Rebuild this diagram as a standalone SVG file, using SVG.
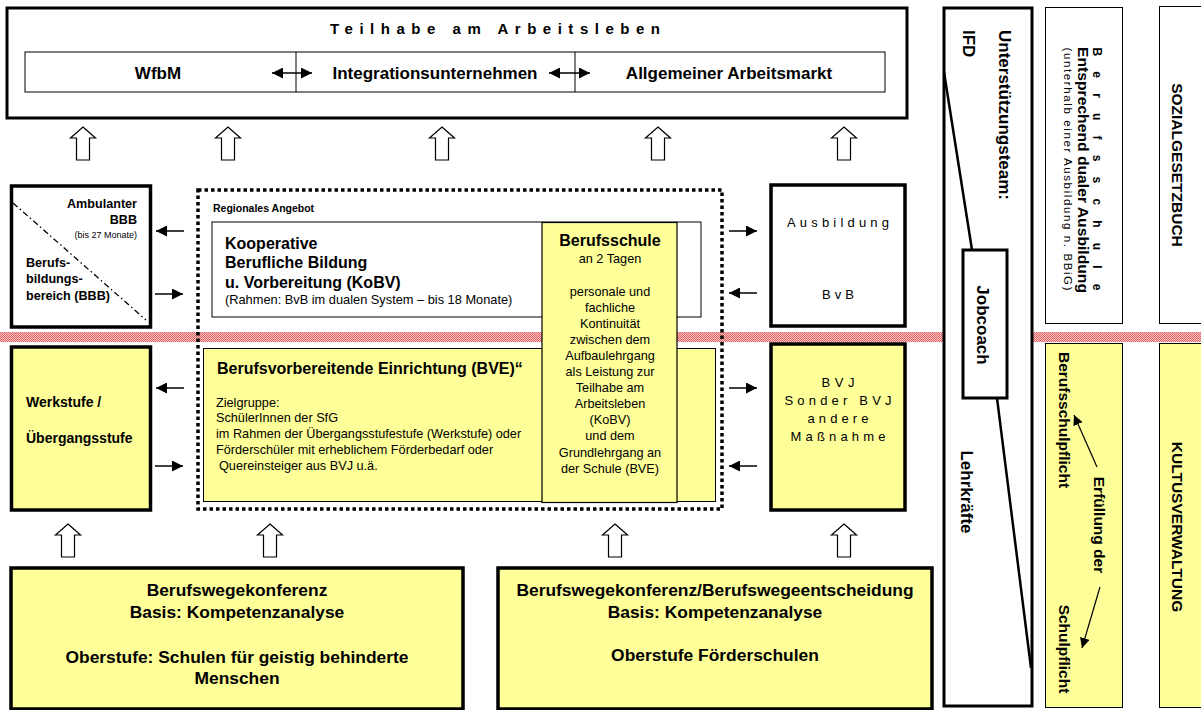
<svg xmlns="http://www.w3.org/2000/svg" width="1201" height="710" viewBox="0 0 1201 710">
<defs>
<pattern id="hatch" width="2" height="2" patternUnits="userSpaceOnUse"><rect width="2" height="2" fill="#f7cccc"/><rect width="1" height="1" fill="#e05a5a"/><rect x="1" y="1" width="1" height="1" fill="#e05a5a"/></pattern>
<marker id="ah" markerUnits="userSpaceOnUse" markerWidth="11" markerHeight="11" refX="10" refY="5" orient="auto-start-reverse" viewBox="0 0 10 10"><path d="M0,0 L10,5 L0,10 Z" fill="#000"/></marker>
<marker id="ahs" markerUnits="userSpaceOnUse" markerWidth="10" markerHeight="10" refX="10" refY="5" orient="auto" viewBox="0 0 10 10"><path d="M0,0 L10,5 L0,10 Z" fill="#000"/></marker>
<path id="up" d="M0,0 L12.5,11 L6.5,11 L6.5,33 L-6.5,33 L-6.5,11 L-12.5,11 Z"/>
</defs>
<style>
text{font-family:"Liberation Sans",Arial,Helvetica,sans-serif;fill:#000}
.b{font-weight:bold}
.frame{fill:#fff;stroke:#000;stroke-width:3.5}
.yframe{fill:#ffff99;stroke:#000;stroke-width:3.5}
.thin{fill:#fff;stroke:#000;stroke-width:1}
.ythin{fill:#ffff99;stroke:#000;stroke-width:1}
.line{stroke:#000;fill:none}
.conn{stroke:#000;stroke-width:1.5;fill:none;marker-end:url(#ah)}
.conns{stroke:#000;stroke-width:1.2;fill:none;marker-end:url(#ahs)}
.up{fill:#fff;stroke:#000;stroke-width:1.2}
</style>
<rect width="1201" height="710" fill="#fff"/>
<rect x="0" y="332" width="1201" height="10" fill="url(#hatch)"/>

<g id="teilhabe">
<rect class="frame" x="7" y="8" width="900" height="110" style="stroke-width:3"/>
<text class="b" x="330" y="34" font-size="15" textLength="330" lengthAdjust="spacing">Teilhabe am Arbeitsleben</text>
<rect class="thin" x="25" y="52" width="860" height="40"/>
<path class="line" d="M296,52 V92 M575,52 V92" stroke-width="1"/>
<text class="b" x="158" y="79" font-size="17" text-anchor="middle">WfbM</text>
<text class="b" x="435" y="79" font-size="17" text-anchor="middle">Integrationsunternehmen</text>
<text class="b" x="729" y="79" font-size="17" text-anchor="middle">Allgemeiner Arbeitsmarkt</text>
</g>

<g id="bbb">
<rect class="frame" x="11.5" y="186" width="139" height="141"/>
<path class="line" d="M13,203 L146,320" stroke-width="1.3" stroke-dasharray="6 3 1.5 3"/>
<text class="b" x="137" y="207.5" font-size="12.6" text-anchor="end">Ambulanter</text>
<text class="b" x="137" y="223.5" font-size="12.6" text-anchor="end">BBB</text>
<text x="137" y="237.5" font-size="9" text-anchor="end">(bis 27 Monate)</text>
<text class="b" x="26" y="267" font-size="12.6">Berufs-</text>
<text class="b" x="26" y="283" font-size="12.6">bildungs-</text>
<text class="b" x="26" y="300" font-size="12.6">bereich (BBB)</text>
</g>

<g id="werkstufe">
<rect class="yframe" x="11.5" y="347" width="139" height="163"/>
<text class="b" x="26" y="407" font-size="14">Werkstufe /</text>
<text class="b" x="26" y="443" font-size="14">Übergangsstufe</text>
</g>

<g id="regional">
<rect x="198" y="190" width="524" height="319" fill="none" stroke="#000" stroke-width="3.5" stroke-dasharray="3.5 3"/>
<text class="b" x="213" y="212" font-size="10.5">Regionales Angebot</text>
</g>

<g id="kobv">
<rect class="thin" x="212" y="222" width="489" height="95"/>
<text class="b" x="225" y="249" font-size="16">Kooperative</text>
<text class="b" x="225" y="268" font-size="16">Berufliche Bildung</text>
<text class="b" x="225" y="288" font-size="16">u. Vorbereitung (KoBV)</text>
<text x="225" y="304" font-size="12.8">(Rahmen: BvB im dualen System – bis 18 Monate)</text>
</g>

<g id="bve">
<rect class="ythin" x="203.5" y="348.5" width="512" height="153"/>
<text class="b" x="217" y="374" font-size="16">Berufsvorbereitende Einrichtung (BVE)“</text>
<text x="216" y="406.5" font-size="12.7">Zielgruppe:</text>
<text x="216" y="421.5" font-size="12.7">SchülerInnen der SfG</text>
<text x="216" y="437.5" font-size="12.7">im Rahmen der Übergangsstufestufe (Werkstufe) oder</text>
<text x="216" y="453.5" font-size="12.7">Förderschüler mit erheblichem Förderbedarf oder</text>
<text x="219" y="470" font-size="12.7">Quereinsteiger aus BVJ u.ä.</text>
</g>

<g id="berufsschule-mitte">
<rect class="ythin" x="542" y="222.5" width="135" height="280" style="stroke-width:1.2"/>
<text class="b" x="610" y="245.5" font-size="16" text-anchor="middle">Berufsschule</text>
<g font-size="12.7" text-anchor="middle">
<text x="610" y="262.5">an 2 Tagen</text>
<text x="610" y="295.5">personale und</text>
<text x="610" y="311.6">fachliche</text>
<text x="610" y="327.7">Kontinuität</text>
<text x="610" y="343.8">zwischen dem</text>
<text x="610" y="359.9">Aufbaulehrgang</text>
<text x="610" y="376">als Leistung zur</text>
<text x="610" y="392.1">Teilhabe am</text>
<text x="610" y="408.2">Arbeitsleben</text>
<text x="610" y="424.3">(KoBV)</text>
<text x="610" y="440.4">und dem</text>
<text x="610" y="456.5">Grundlehrgang an</text>
<text x="610" y="472.6">der Schule (BVE)</text>
</g>
</g>

<g id="ausbildung">
<rect class="frame" x="771" y="185" width="134" height="141"/>
<text x="838" y="226.5" font-size="13" text-anchor="middle" textLength="102" lengthAdjust="spacing">Ausbildung</text>
<text x="838" y="298.5" font-size="13" text-anchor="middle" textLength="32" lengthAdjust="spacing">BvB</text>
</g>

<g id="bvj">
<rect class="yframe" x="771" y="344" width="134" height="166"/>
<text x="838" y="386.5" font-size="13" text-anchor="middle" textLength="33" lengthAdjust="spacing">BVJ</text>
<text x="838" y="404.5" font-size="13" text-anchor="middle" textLength="107" lengthAdjust="spacing">Sonder BVJ</text>
<text x="838" y="422.5" font-size="13" text-anchor="middle" textLength="61" lengthAdjust="spacing">andere</text>
<text x="838" y="440.5" font-size="13" text-anchor="middle" textLength="95" lengthAdjust="spacing">Maßnahme</text>
</g>

<g id="bwk-links">
<rect class="yframe" x="11" y="568" width="452" height="141"/>
<g class="b" font-size="17.4" text-anchor="middle">
<text x="237" y="596">Berufswegekonferenz</text>
<text x="237" y="618">Basis: Kompetenzanalyse</text>
<text x="237" y="663">Oberstufe: Schulen für geistig behinderte</text>
<text x="237" y="684">Menschen</text>
</g>
</g>

<g id="bwk-rechts">
<rect class="yframe" x="498" y="568" width="434" height="141"/>
<g class="b" font-size="17.4" text-anchor="middle">
<text x="715" y="596">Berufswegekonferenz/Berufswegeentscheidung</text>
<text x="715" y="618">Basis: Kompetenzanalyse</text>
<text x="715" y="661">Oberstufe Förderschulen</text>
</g>
</g>

<g id="ifd">
<rect class="frame" x="944" y="8" width="88" height="698" style="stroke-width:3"/>
<path class="line" d="M944,72 L972,250 M997,398 L1031,668" stroke-width="2.5"/>
<text class="b" font-size="17" text-anchor="middle" transform="translate(998.9,115) rotate(90)">Unterstützungsteam:</text>
<text class="b" font-size="17" transform="translate(962.9,30) rotate(90)">IFD</text>
<text class="b" font-size="17" text-anchor="middle" transform="translate(960.9,492) rotate(90)">Lehrkräfte</text>
</g>

<g id="jobcoach">
<rect class="frame" x="963" y="250" width="44" height="148" style="stroke-width:3"/>
<text class="b" font-size="17" text-anchor="middle" transform="translate(976.9,325) rotate(90)">Jobcoach</text>
</g>

<g id="berufsschule-dual">
<rect class="thin" x="1045.5" y="7.5" width="77" height="316"/>
<text class="b" font-size="12" text-anchor="middle" textLength="243" lengthAdjust="spacing" transform="translate(1092.7,169) rotate(90)">Berufsschule</text>
<text class="b" font-size="14" text-anchor="middle" textLength="246" lengthAdjust="spacingAndGlyphs" transform="translate(1078,170) rotate(90)">Entsprechend dualer Ausbildung</text>
<text font-size="11.5" text-anchor="middle" textLength="243" lengthAdjust="spacing" transform="translate(1064,169) rotate(90)">(unterhalb einer Ausbildung n. BBiG)</text>
</g>

<g id="sozialgesetzbuch">
<rect class="thin" x="1159.5" y="6.5" width="60" height="317"/>
<text class="b" font-size="15.5" text-anchor="middle" transform="translate(1172.4,165) rotate(90)">SOZIALGESETZBUCH</text>
</g>

<g id="schulpflicht">
<rect class="ythin" x="1045.5" y="343.5" width="77" height="364"/>
<text class="b" font-size="15.5" text-anchor="middle" transform="translate(1059.4,420) rotate(90)">Berufsschulpflicht</text>
<text class="b" font-size="15.5" text-anchor="middle" transform="translate(1094.4,525) rotate(90)">Erfüllung der</text>
<text class="b" font-size="15.5" text-anchor="middle" transform="translate(1059.4,649) rotate(90)">Schulpflicht</text>
</g>

<g id="kultusverwaltung">
<rect class="ythin" x="1159.5" y="343.5" width="60" height="364"/>
<text class="b" font-size="15.5" text-anchor="middle" transform="translate(1172.4,527) rotate(90)">KULTUSVERWALTUNG</text>
</g>

<g id="connectors">
<path class="conn" d="M272,73 H312" marker-start="url(#ah)"/>
<path class="conn" d="M549,73 H590" marker-start="url(#ah)"/>
<path class="conn" d="M184,231 H156"/>
<path class="conn" d="M155,294 H183"/>
<path class="conn" d="M184,388 H156"/>
<path class="conn" d="M155,466 H183"/>
<path class="conn" d="M729,231 H757"/>
<path class="conn" d="M757,293 H729"/>
<path class="conn" d="M729,388 H757"/>
<path class="conn" d="M757,466 H729"/>
<path class="conns" d="M1097,467 L1074,415"/>
<path class="conns" d="M1100,587 L1082,648"/>
<use href="#up" class="up" x="83" y="127"/>
<use href="#up" class="up" x="228" y="127"/>
<use href="#up" class="up" x="442" y="127"/>
<use href="#up" class="up" x="658" y="127"/>
<use href="#up" class="up" x="844" y="127"/>
<use href="#up" class="up" x="68" y="524"/>
<use href="#up" class="up" x="270" y="524"/>
<use href="#up" class="up" x="615" y="524"/>
<use href="#up" class="up" x="844" y="524"/>
</g>
</svg>
